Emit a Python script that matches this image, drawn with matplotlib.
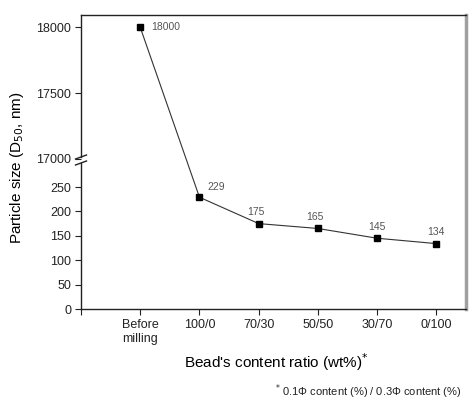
import numpy as np
import matplotlib
matplotlib.use('Agg')
import matplotlib.pyplot as plt

plt.rcParams['font.family'] = ['Liberation Sans', 'DejaVu Sans']

# data
categories = ['Before\nmilling', '100/0', '70/30', '50/50', '30/70', '0/100']
sizes = [18000, 229, 175, 165, 145, 134]
labels = ['18000', '229', '175', '165', '145', '134']
yticks = [0, 50, 100, 150, 200, 250, 17000, 17500, 18000]

# broken y axis as one piecewise scale
lo_top = 305.0
hi_bot = 16989.0
k = 0.2692
eps = 1e-6
tb = lo_top + (hi_bot - lo_top) * eps

def fwd(y):
    y = np.asarray(y, dtype=float)
    return np.where(y <= lo_top, y,
           np.where(y >= hi_bot, tb + (y - hi_bot) * k,
                    lo_top + (y - lo_top) * eps))

def inv(t):
    t = np.asarray(t, dtype=float)
    return np.where(t <= lo_top, t,
           np.where(t >= tb, hi_bot + (t - tb) / k,
                    lo_top + (t - lo_top) / eps))

fig = plt.figure(figsize=(4.77, 4.07), dpi=100)
ax = fig.add_axes([81/477, 1-309/407, (466-81)/477, (309-15)/407])
ax.set_yscale('function', functions=(fwd, inv))

x = np.arange(1, len(categories) + 1)
ax.plot(x, sizes, color='#333333', lw=0.8, marker='s', ms=4.5,
        mfc='black', mec='black', zorder=3)

offs = [(8, 0), (6, 4), (-2, 4.5), (-2, 4.5), (0, 4.5), (0, 4.5)]
has = ['left', 'left', 'center', 'center', 'center', 'center']
for xi, yi, lab, o, ha in zip(x, sizes, labels, offs, has):
    ax.annotate(lab, (xi, yi), xytext=o, textcoords='offset points',
                ha=ha, va='bottom' if o[1] else 'center', fontsize=7.5, color='#555555')

ax.set_ylim(0, 18094)
ax.set_xlim(0, 6.5)
ax.set_yticks(yticks)
ax.set_yticklabels([str(v) for v in yticks])
ax.set_xticks(np.arange(0, len(categories) + 1))
ax.set_xticklabels([''] + categories)
ax.tick_params(direction='out', length=4, width=0.8, labelsize=9,
               colors='#222222', pad=3)
for lab in ax.get_xticklabels():
    lab.set_linespacing(1.25)

ax.spines['top'].set_linewidth(1.0)
ax.spines['top'].set_color('#222222')
ax.spines['bottom'].set_linewidth(1.0)
ax.spines['bottom'].set_color('#222222')
ax.spines['right'].set_linewidth(2.5)
ax.spines['right'].set_color('#a0a0a0')
ax.spines['left'].set_visible(False)

# left spine with break
g1 = (309 - 163) / 294
g2 = (309 - 157) / 294
ax.plot([0, 0], [0, g1], transform=ax.transAxes, color='#222222', lw=1.0, clip_on=False)
ax.plot([0, 0], [g2, 1], transform=ax.transAxes, color='#222222', lw=1.0, clip_on=False)
dx = 5.5 / 385
dy = 2.0 / 294
for g in (g1, g2):
    ax.plot([-dx, dx], [g - dy, g + dy], transform=ax.transAxes,
            color='#222222', lw=1.0, clip_on=False)

ax.set_ylabel('Particle size (D$_{50}$, nm)', fontsize=11)
ax.yaxis.set_label_coords((26 - 81) / 385, (309 - 168) / 294)
ax.set_xlabel("Bead's content ratio (wt%)$^{*}$", fontsize=11)
ax.xaxis.set_label_coords((276 - 81) / 385, (309 - 362) / 294)
ax.xaxis.label.set_va('center')

fig.text(462/477, 1-392/407, '$^{*}$ 0.1\u03a6 content (%) / 0.3\u03a6 content (%)',
         ha='right', va='center', fontsize=8, color='#222222')

fig.savefig('out.png', dpi=100)
